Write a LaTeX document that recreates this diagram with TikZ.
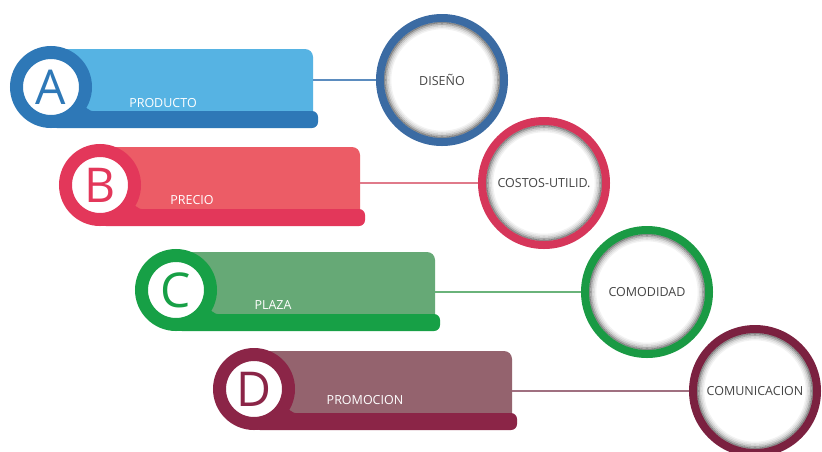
\documentclass[tikz,border=0pt]{standalone}
\usepackage{fontspec}
\setmainfont{Open Sans}
\definecolor{aLight}{HTML}{56B3E3}
\definecolor{aDark}{HTML}{2E78B7}
\definecolor{aRing}{HTML}{3B6BA3}
\definecolor{aLink}{HTML}{5B8CBF}
\definecolor{bLight}{HTML}{EC5C66}
\definecolor{bDark}{HTML}{E3375A}
\definecolor{bRing}{HTML}{D6365A}
\definecolor{bLink}{HTML}{E07A8A}
\definecolor{cLight}{HTML}{66A976}
\definecolor{cDark}{HTML}{17A046}
\definecolor{cRing}{HTML}{1A9A44}
\definecolor{cLink}{HTML}{6AB37A}
\definecolor{dLight}{HTML}{94636E}
\definecolor{dDark}{HTML}{8B2547}
\definecolor{dRing}{HTML}{7B2140}
\definecolor{dLink}{HTML}{A07080}
\definecolor{txtGray}{HTML}{454545}
% #1 cx, #2 cy, #3 right end, #4 light colour, #5 dark colour
\newcommand\drawtab[5]{%
  \fill[#4, rounded corners=8pt] (#1,#2-38) -- (#3,#2-38) -- (#3,#2+34) -- (#1,#2+34) -- cycle;
  \fill[#5, rounded corners=6pt] (#1,#2+24) -- (#3+5,#2+24) -- (#3+5,#2+41) -- (#1,#2+41) -- cycle;
  \fill[#5] (#1+46,#2+24.5) .. controls (#1+36,#2+24.5) and (#1+33,#2+20) .. (#1+30,#2+10) -- (#1+10,#2+10) -- (#1+10,#2+24.5) -- cycle;
}
\begin{document}
\begin{tikzpicture}[x=1pt,y=-1pt,
  lettercirc/.style={circle, draw=#1, line width=13pt, fill=white, minimum size=69pt, inner sep=0pt, text=#1, font=\fontsize{48}{48}\selectfont},
  bigcirc/.style={circle, draw=#1, line width=8pt, fill=white, minimum size=124pt, inner sep=0pt, text=txtGray, font=\fontsize{12.5}{13}\selectfont,
    path picture={
      \foreach \rr/\oo in {57.5/0.45,56/0.3,54.5/0.18,53/0.1,51.5/0.05}{
        \draw[black, opacity=\oo, line width=1.6pt] (path picture bounding box.center) circle[radius=\rr pt];}
    }},
  tablabel/.style={text=white, font=\fontsize{12.5}{13}\selectfont, inner sep=0pt},
  link/.style={draw=#1, line width=1.3pt}]
\useasboundingbox (0,0) rectangle (822,451);
\fill[white] (0,0) rectangle (822,451);

% tabs
\drawtab{51}{87}{313}{aLight}{aDark}
\drawtab{100}{185}{360}{bLight}{bDark}
\drawtab{176}{290}{435}{cLight}{cDark}
\drawtab{254}{389}{512}{dLight}{dDark}

% letter circles
\node[lettercirc=aDark] (la) at (51,87) {A};
\node[lettercirc=bDark] (lb) at (100,185) {B};
\node[lettercirc=cDark] (lc) at (176,290) {C};
\node[lettercirc=dDark] (ld) at (254,389) {D};

% tab labels
\node[tablabel] (ta) at (163,103) {PRODUCTO};
\node[tablabel] (tb) at (192,200) {PRECIO};
\node[tablabel] (tc) at (273,305) {PLAZA};
\node[tablabel] (td) at (365,400) {PROMOCION};

% tab ends
\coordinate (ea) at (313,80);
\coordinate (eb) at (360,183);
\coordinate (ec) at (435,292);
\coordinate (ed) at (512,391);

% big circles
\node[bigcirc=aRing] (ba) at (442,80) {DISEÑO};
\node[bigcirc=bRing] (bb) at (544,183) {COSTOS-UTILID.};
\node[bigcirc=cRing] (bc) at (647,292) {COMODIDAD};
\node[bigcirc=dRing] (bd) at (755,391) {COMUNICACION};

% links
\draw[link=aLink] (ea) -- (ba);
\draw[link=bLink] (eb) -- (bb);
\draw[link=cLink] (ec) -- (bc);
\draw[link=dLink] (ed) -- (bd);
\end{tikzpicture}
\end{document}
